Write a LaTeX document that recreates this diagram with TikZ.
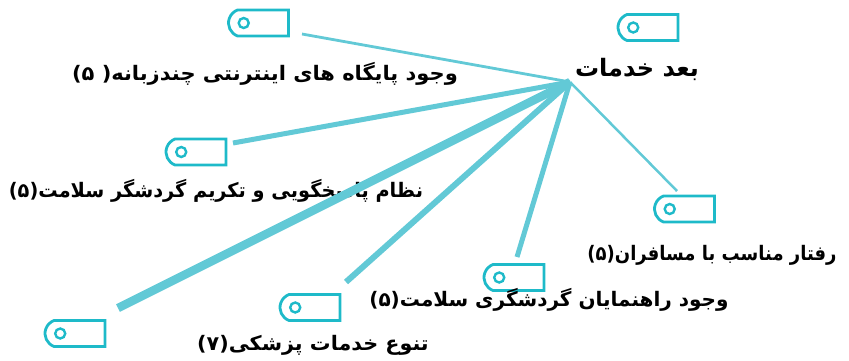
\documentclass[tikz,border=0pt]{standalone}
\usepackage{fontspec}
\usetikzlibrary{shapes.misc}
\TeXXeTstate=1
\newfontfamily\arabicfont[Script=Arabic]{DejaVu Sans}
\definecolor{tagc}{RGB}{30,186,201}
\definecolor{linec}{RGB}{98,201,214}
\tikzset{
  tagbox/.style={rounded rectangle, rounded rectangle right arc=none,
    rounded rectangle arc length=140,
    draw=tagc, line width=2.8pt, minimum width=60pt, minimum height=26pt,
    inner sep=0pt,
    path picture={\draw[tagc,line width=2.4pt] ([xshift=17pt]path picture bounding box.west) circle (5pt);}},
  lbl/.style={font=\arabicfont\bfseries\fontsize{20}{22}\selectfont, inner sep=0pt, text=black},
  conn/.style={draw=linec, line cap=butt}
}
\begin{document}
\begin{tikzpicture}[x=1pt,y=-1pt]
\useasboundingbox (0,0) rectangle (849,360);
% tags
\node[tagbox] (t1) at (258.5,23) {};
\node[tagbox] (t2) at (648,27.5) {};
\node[tagbox] (t3) at (196,152) {};
\node[tagbox] (t4) at (684.5,209) {};
\node[tagbox] (t5) at (514,277.5) {};
\node[tagbox] (t6) at (310,307.5) {};
\node[tagbox] (t7) at (75,333.5) {};
% labels
\node[lbl] (l0) at (637,69) {\fontsize{24}{26}\selectfont\beginR بعد خدمات\endR};
\node[lbl] (l1) at (265,74) {\scalebox{1.05}[1]{\beginR وجود پایگاه های اینترنتی چندزبانه( ۵)\endR}};
\node[lbl] (l3) at (216,191) {\scalebox{0.965}[1]{\beginR نظام پاسخگویی و تکریم گردشگر سلامت(۵)\endR}};
\node[lbl] (l4) at (712,255) {\scalebox{0.9}[1]{\beginR رفتار مناسب با مسافران(۵)\endR}};
\node[lbl] (l5) at (549,300) {\beginR وجود راهنمایان گردشگری سلامت(۵)\endR};
\node[lbl] (l6) at (313,345) {\scalebox{1.035}[1]{\beginR تنوع خدمات پزشکی(۷)\endR}};
% connector ends
\coordinate (c) at (570,82);
\coordinate (e1) at (302,34);
\coordinate (e3) at (233,143);
\coordinate (e4) at (677,191);
\coordinate (e5) at (517,257);
\coordinate (e6) at (346,282);
\coordinate (e7) at (118,308);
\draw[conn, line width=2.8pt] (c) -- (e1);
\draw[conn, line width=5pt] (c) -- (e3);
\draw[conn, line width=2.5pt] (c) -- (e4);
\draw[conn, line width=5pt] (c) -- (e5);
\draw[conn, line width=6pt] (c) -- (e6);
\draw[conn, line width=8.5pt] (c) -- (e7);
\end{tikzpicture}
\end{document}
